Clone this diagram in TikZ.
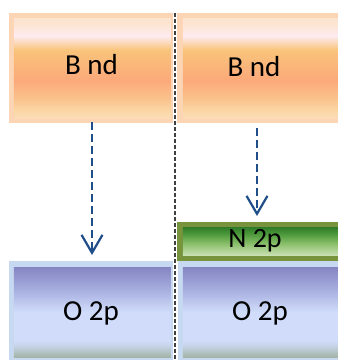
\documentclass[tikz,border=0pt]{standalone}
\usepackage{fontspec}
\setmainfont{Carlito}
\usetikzlibrary{arrows.meta}
\definecolor{obord}{HTML}{FCD5B5}
\definecolor{bbord}{HTML}{C6D9F1}
\definecolor{gbord}{HTML}{77933C}
\definecolor{arrowblue}{HTML}{1F4E89}
\definecolor{oa}{HTML}{FCDDB8}
\definecolor{ob}{HTML}{FBD6A4}
\definecolor{oc}{HTML}{FAC48E}
\definecolor{od}{HTML}{FBA97A}
\definecolor{oe}{HTML}{F9C47A}
\definecolor{of}{HTML}{FDEBF0}
\definecolor{og}{HTML}{FDE5D2}
\definecolor{oh}{HTML}{FCE3D0}
\definecolor{ba}{HTML}{A4B4A6}
\definecolor{bb}{HTML}{C4D2E4}
\definecolor{bc}{HTML}{D0DCFA}
\definecolor{bd}{HTML}{A8B0E0}
\definecolor{be}{HTML}{8585C2}
\definecolor{ga}{HTML}{C8E0B2}
\definecolor{gb}{HTML}{8CC06C}
\definecolor{gc}{HTML}{4E9A3C}
\definecolor{gd}{HTML}{2E7A28}
\pgfdeclareverticalshading{orangeband}{100bp}{
  color(0bp)=(oa); color(25bp)=(oa);
  color(29bp)=(ob); color(34bp)=(oc);
  color(44bp)=(od); color(59bp)=(oe);
  color(66bp)=(of); color(72bp)=(og);
  color(75bp)=(oh); color(100bp)=(oh)}
\pgfdeclareverticalshading{blueband}{100bp}{
  color(0bp)=(ba); color(25bp)=(ba);
  color(31bp)=(bb); color(34bp)=(bc);
  color(50bp)=(bc); color(62bp)=(bd);
  color(75bp)=(be); color(100bp)=(be)}
\pgfdeclareverticalshading{greenband}{100bp}{
  color(0bp)=(ga); color(25bp)=(ga);
  color(45bp)=(gb); color(62bp)=(gc);
  color(75bp)=(gd); color(100bp)=(gd)}
\tikzset{
  lbl/.style={font=\fontsize{29}{32}\selectfont, text=black},
  smalllbl/.style={font=\fontsize{28}{30}\selectfont, text=black},
  flow/.style={arrowblue, line width=2.4pt, dash pattern=on 8pt off 4pt,
    -{Straight Barb[length=18pt,width=21pt,line width=2.2pt]}},
  divider/.style={black!75, line width=1.6pt, dash pattern=on 4pt off 2pt}
}
\begin{document}
\begin{tikzpicture}[x=1pt,y=-1pt]
\useasboundingbox (0,0) rectangle (338,360);
\fill[white] (0,0) rectangle (338,360);
\clip (0,0) rectangle (338,360);
% top orange boxes
\fill[obord] (9,13) rectangle (173,123);
\shade[shading=orangeband] (14,18) rectangle (171,118);
\node[lbl] (b1) at (91.5,65) {B nd};
\fill[obord] (177,13) rectangle (345,123);
\shade[shading=orangeband] (183,18) rectangle (345,118);
\node[lbl] (b2) at (254,67) {B nd};
% green box
\fill[gbord] (177,222) rectangle (345,261);
\shade[shading=greenband] (183,227) rectangle (345,255);
\node[smalllbl] (n1) at (255,241) {N 2p};
% blue boxes
\fill[bbord] (9,261) rectangle (173,362);
\shade[shading=blueband] (14,267) rectangle (171,357);
\node[lbl] (o1) at (91,313.5) {O 2p};
\fill[bbord] (178,261) rectangle (345,362);
\shade[shading=blueband] (183,267) rectangle (345,357);
\node[lbl] (o2) at (260,313.5) {O 2p};
% arrows
\coordinate (a1s) at (92,122);
\coordinate (a1e) at (92,255);
\coordinate (a2s) at (257,128);
\coordinate (a2e) at (257,216);
\draw[flow] (a1s) -- (a1e);
\draw[flow] (a2s) -- (a2e);
% divider
\coordinate (dtop) at (175,13);
\coordinate (dbot) at (175,360);
\draw[divider] (dtop) -- (dbot);
\end{tikzpicture}
\end{document}
